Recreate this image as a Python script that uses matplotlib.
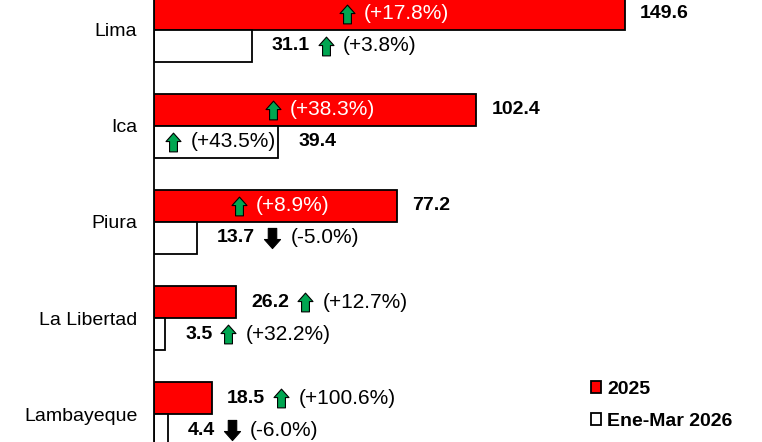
import numpy as np
import matplotlib.pyplot as plt
from matplotlib.path import Path
from matplotlib.transforms import offset_copy

plt.rcParams['font.family'] = ['Liberation Sans', 'DejaVu Sans']

regions = ['Lima', 'Ica', 'Piura', 'La Libertad', 'Lambayeque']
v2025 = [149.6, 102.4, 77.2, 26.2, 18.5]
v2026 = [31.1, 39.4, 13.7, 3.5, 4.4]
chg2025 = [17.8, 38.3, 8.9, 12.7, 100.6]
chg2026 = [3.8, 43.5, -5.0, 32.2, -6.0]
series_names = ['2025', 'Ene-Mar 2026']

W, H = 762, 442
fig = plt.figure(figsize=(W / 100, H / 100), dpi=100)
ax = fig.add_axes([154 / W, 0, 1 - 154 / W, 1])

y = np.arange(len(regions))
h = 1 / 3
ax.barh(y - h / 2, v2025, height=h, color='#ff0000', edgecolor='black', linewidth=1.3, label=series_names[0])
ax.barh(y + h / 2, v2026, height=h, color='white', edgecolor='black', linewidth=1.3, label=series_names[1])

ax.set_xlim(0, 193.1)
ax.set_ylim(4.29, -0.31)
ax.set_yticks(y)
ax.set_yticklabels(regions, fontsize=14)
ax.tick_params(axis='y', length=0, pad=12)
ax.set_xticks([])
for s in ['top', 'right', 'bottom']:
    ax.spines[s].set_visible(False)
ax.spines['left'].set_linewidth(1.3)
ax.spines['left'].set_color('black')

# block arrow marker
up_verts = [(0, 1), (-0.8, 0.1), (-0.42, 0.1), (-0.42, -1), (0.42, -1), (0.42, 0.1), (0.8, 0.1), (0, 1)]
up_arrow = Path(up_verts, closed=True)
down_arrow = Path([(vx, -vy) for vx, vy in up_verts], closed=True)

fig.canvas.draw()
r = fig.canvas.get_renderer()
px_per_unit = ax.transData.transform((1, 0))[0] - ax.transData.transform((0, 0))[0]

val_kw = dict(fontsize=14, fontweight='bold')
pct_kw = dict(fontsize=15)


def text_w(s, **kw):
    t = fig.text(0, 0, s, **kw)
    w = t.get_window_extent(renderer=r).width
    t.remove()
    return w


def arrow_w(chg):
    return 14 if chg >= 0 else 16


def put_text(x, yy, dx, s, color, kw):
    ax.annotate(s, (x, yy), xytext=(dx, 0), textcoords='offset pixels',
                ha='left', va='center', color=color, **kw)


def put_arrow(x, yy, dx, chg):
    tr = offset_copy(ax.transData, fig=fig, x=dx, y=0, units='dots')
    if chg >= 0:
        ax.plot([x], [yy], marker=up_arrow, markersize=13.5, color='#00a651',
                markeredgecolor='black', markeredgewidth=0.8, transform=tr, clip_on=False)
    else:
        ax.plot([x], [yy], marker=down_arrow, markersize=14.5, color='black',
                markeredgecolor='black', markeredgewidth=0.8, transform=tr, clip_on=False)


GAP_A = 9
GAP_B = 10


def label(val, yy, chg, inside_color, out_off):
    vs = f'{val:.1f}'
    ps = f'({chg:+.1f}%)'
    aw = arrow_w(chg)
    pw = text_w(ps, **pct_kw)
    group_w = aw + GAP_B + pw
    bar_px = val * px_per_unit
    if bar_px > group_w + 12:
        # arrow + pct inside the bar, value outside
        start = -bar_px / 2 - group_w / 2 + 5
        put_arrow(val, yy, start + aw / 2, chg)
        put_text(val, yy, start + aw + GAP_B, ps, inside_color, pct_kw)
        put_text(val, yy, out_off, vs, 'black', val_kw)
    else:
        vw = text_w(vs, **val_kw)
        put_text(val, yy, out_off, vs, 'black', val_kw)
        ax_ = out_off + vw + GAP_A + aw / 2
        put_arrow(val, yy, ax_, chg)
        put_text(val, yy, ax_ + aw / 2 + GAP_B, ps, 'black', pct_kw)


for i in range(len(regions)):
    label(v2025[i], y[i] - h / 2, chg2025[i], 'white', 15)
    label(v2026[i], y[i] + h / 2, chg2026[i], 'black', 20)

leg = ax.legend(loc='center left', bbox_to_anchor=(581 / W, 1 - 405.5 / H), bbox_transform=fig.transFigure,
                frameon=False, prop=dict(size=14, weight='bold'), handlelength=0.55, handleheight=0.55,
                handletextpad=0.3, labelspacing=0.75, borderpad=0)

fig.savefig('out.png', dpi=100)
